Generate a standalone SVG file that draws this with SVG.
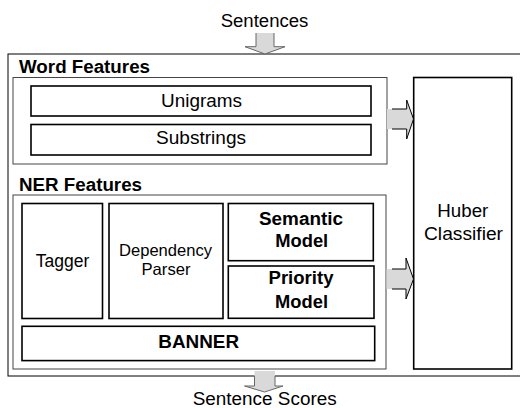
<svg xmlns="http://www.w3.org/2000/svg" width="520" height="408" viewBox="0 0 520 408">
  <style>
    text { font-family: "Liberation Sans", Arial, sans-serif; fill: #000; }
    .lbl { font-size: 18.7px; }
    .small { font-size: 16.5px; }
    .bold { font-weight: bold; }
    .mid { text-anchor: middle; }
    .frame { fill: #fff; stroke: #000; stroke-width: 1; }
    .group { fill: #fff; stroke: #444; stroke-width: 1; }
    .box { fill: #fff; stroke: #000; stroke-width: 1.6; }
    .arrow-fill { fill: #d9d9d9; stroke: none; }
    .arrow-edge { fill: none; stroke: #000; stroke-width: 1; stroke-linejoin: miter; }
    .arrow-soft { fill: none; stroke: #666; stroke-width: 1; }
  </style>

  <!-- outer system frame -->
  <g id="system">
    <rect class="frame" x="8" y="54" width="520" height="322"/>
  </g>

  <!-- input / output labels -->
  <g id="input">
    <text class="lbl mid" x="264.5" y="26.5" textLength="87.6" lengthAdjust="spacingAndGlyphs">Sentences</text>
  </g>
  <g id="output">
    <text class="lbl mid" x="264.7" y="405" textLength="144" lengthAdjust="spacingAndGlyphs">Sentence Scores</text>
  </g>

  <!-- word feature group -->
  <g id="word-features">
    <text class="lbl bold" x="19" y="73" textLength="131" lengthAdjust="spacingAndGlyphs">Word Features</text>
    <rect class="group" x="13" y="77.5" width="374" height="86.5"/>
  </g>
  <g id="unigrams">
    <rect class="box" x="31" y="86" width="340" height="30"/>
    <text class="lbl mid" x="201.5" y="107.3" textLength="81" lengthAdjust="spacingAndGlyphs">Unigrams</text>
  </g>
  <g id="substrings">
    <rect class="box" x="31" y="124.5" width="340" height="30.5"/>
    <text class="lbl mid" x="201" y="144.3" textLength="90" lengthAdjust="spacingAndGlyphs">Substrings</text>
  </g>

  <!-- NER feature group -->
  <g id="ner-features">
    <text class="lbl bold" x="19" y="190.7" textLength="123" lengthAdjust="spacingAndGlyphs">NER Features</text>
    <rect class="group" x="13" y="195" width="373" height="174"/>
  </g>
  <g id="tagger">
    <rect class="box" x="22" y="203.5" width="80.5" height="115"/>
    <text class="lbl mid" x="62.5" y="266.7" textLength="53.6" lengthAdjust="spacingAndGlyphs">Tagger</text>
  </g>
  <g id="dependency-parser">
    <rect class="box" x="109" y="203.5" width="114" height="115"/>
    <text class="small mid" x="165.5" y="255.7" textLength="93" lengthAdjust="spacingAndGlyphs">Dependency</text>
    <text class="small mid" x="166" y="275" textLength="49" lengthAdjust="spacingAndGlyphs">Parser</text>
  </g>
  <g id="semantic-model">
    <rect class="box" x="228.3" y="203.5" width="145" height="57.2"/>
    <text class="lbl bold mid" x="301" y="225" textLength="84" lengthAdjust="spacingAndGlyphs">Semantic</text>
    <text class="lbl bold mid" x="301.7" y="247.3" textLength="53" lengthAdjust="spacingAndGlyphs">Model</text>
  </g>
  <g id="priority-model">
    <rect class="box" x="228.3" y="266" width="145.7" height="52.3"/>
    <text class="lbl bold mid" x="301" y="284.3" textLength="65" lengthAdjust="spacingAndGlyphs">Priority</text>
    <text class="lbl bold mid" x="301.5" y="308.3" textLength="53" lengthAdjust="spacingAndGlyphs">Model</text>
  </g>
  <g id="banner">
    <rect class="box" x="22" y="326.3" width="352.7" height="34.3"/>
    <text class="lbl bold mid" x="198.7" y="348.3" textLength="80.7" lengthAdjust="spacingAndGlyphs">BANNER</text>
  </g>

  <!-- classifier -->
  <g id="huber-classifier">
    <rect class="box" x="413.7" y="77.5" width="98" height="291.5"/>
    <text class="lbl mid" x="462.8" y="217.3" textLength="51" lengthAdjust="spacingAndGlyphs">Huber</text>
    <text class="lbl mid" x="463.5" y="240" textLength="79" lengthAdjust="spacingAndGlyphs">Classifier</text>
  </g>

  <!-- block-arrow connectors -->
  <g id="connectors">
    <!-- sentences in -->
    <polygon class="arrow-fill" points="256,33 274,33 274,46.7 285,46.7 265,54 245,46.7 256,46.7"/>
    <path class="arrow-soft" d="M256,33 V46.7 H245 L265,54 L285,46.7 H274 V33"/>

    <!-- word features to classifier -->
    <polygon class="arrow-fill" points="387,109 406.7,109 406.7,100 413.5,119 406.7,139 406.7,129 387,129"/>
    <path class="arrow-edge" d="M392,109 H406.7 V100 L413.5,119 L406.7,139 V129 H392"/>

    <!-- NER features to classifier -->
    <polygon class="arrow-fill" points="386.5,269 406,269 406,258 413.5,279 406,299 406,289 386.5,289"/>
    <path class="arrow-edge" d="M392,269 H406 V258 L413.5,279 L406,299 V289 H392"/>

    <!-- scores out -->
    <polygon class="arrow-fill" points="254.5,371 275,371 275,386 283,386 264.5,392 244.5,386 254.5,386"/>
    <path class="arrow-soft" d="M254.5,376 V386 H244.5 L264.5,392 L283,386 H275 V376"/>
  </g>
</svg>
